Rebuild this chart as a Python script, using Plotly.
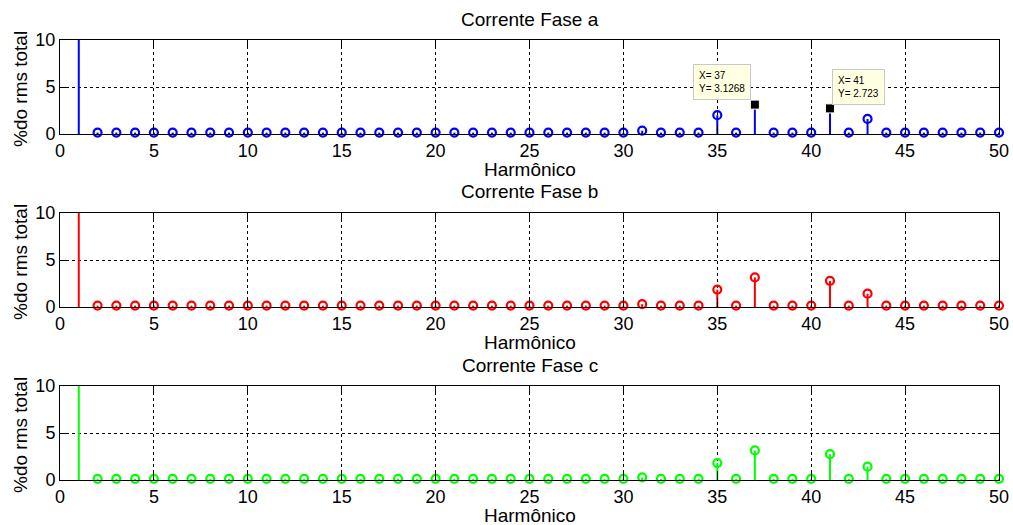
import plotly.graph_objects as go

# ---------------- data ----------------
harmonics = list(range(1, 51))

phase_a = [100.0, 0.15, 0.15, 0.15, 0.15, 0.15, 0.15, 0.15, 0.15, 0.15,
           0.15, 0.15, 0.15, 0.15, 0.15, 0.15, 0.15, 0.15, 0.15, 0.15,
           0.15, 0.15, 0.15, 0.15, 0.15, 0.15, 0.15, 0.15, 0.15, 0.15,
           0.35, 0.15, 0.15, 0.15, 2.0, 0.15, 3.1268, 0.15, 0.15, 0.15,
           2.723, 0.15, 1.6, 0.15, 0.15, 0.15, 0.15, 0.15, 0.15, 0.15]

phase_b = [100.0, 0.15, 0.15, 0.15, 0.15, 0.15, 0.15, 0.15, 0.15, 0.15,
           0.15, 0.15, 0.15, 0.15, 0.15, 0.15, 0.15, 0.15, 0.15, 0.15,
           0.15, 0.15, 0.15, 0.15, 0.15, 0.15, 0.15, 0.15, 0.15, 0.15,
           0.3, 0.15, 0.15, 0.15, 1.85, 0.15, 3.15, 0.15, 0.15, 0.15,
           2.78, 0.15, 1.42, 0.15, 0.15, 0.15, 0.15, 0.15, 0.15, 0.15]

phase_c = [100.0, 0.12, 0.12, 0.12, 0.12, 0.12, 0.12, 0.12, 0.12, 0.12,
           0.12, 0.12, 0.12, 0.12, 0.12, 0.12, 0.12, 0.12, 0.12, 0.12,
           0.12, 0.12, 0.12, 0.12, 0.12, 0.12, 0.12, 0.12, 0.12, 0.12,
           0.28, 0.12, 0.12, 0.12, 1.8, 0.12, 3.15, 0.12, 0.12, 0.12,
           2.75, 0.12, 1.42, 0.12, 0.12, 0.12, 0.12, 0.12, 0.12, 0.12]

titles = ["Corrente Fase a", "Corrente Fase b", "Corrente Fase c"]
colors = ["#0000FF", "#FF0000", "#00FF00"]
x_label = "Harmônico"
y_label = "%do rms total"
x_ticks = [0, 5, 10, 15, 20, 25, 30, 35, 40, 45, 50]
y_ticks = [0, 5, 10]

# data tips on phase a
tip_harmonics = [37, 41]
tip_texts = ["X= 37<br>Y= 3.1268", "X= 41<br>Y= 2.723"]
tip_box_pos = [(35.25, 5.55), (42.5, 5.05)]

series = [phase_a, phase_b, phase_c]

# ---------------- layout geometry ----------------
W, H = 1013, 525
x_dom = [60 / W, 999 / W]
panels_px = [(40, 134), (213, 307), (386, 480)]  # top, bottom pixel rows
y_doms = [[1 - b / H, 1 - t / H] for t, b in panels_px]

FONT = "Liberation Sans, Arial, sans-serif"

fig = go.Figure()

for i, (vals, col) in enumerate(zip(series, colors)):
    xs = "x" if i == 0 else f"x{i+1}"
    ys = "y" if i == 0 else f"y{i+1}"
    # stems
    sx, sy = [], []
    for h, v in zip(harmonics, vals):
        sx += [h, h, None]
        sy += [0, v, None]
    fig.add_trace(go.Scatter(x=sx, y=sy, mode="lines", xaxis=xs, yaxis=ys,
                             line=dict(color=col, width=2), hoverinfo="skip",
                             showlegend=False, cliponaxis=True))
    # circle markers (points inside the visible range)
    mx, my = [], []
    for h, v in zip(harmonics, vals):
        if v > 10:
            continue
        if i == 0 and h in tip_harmonics:
            continue
        mx.append(h)
        my.append(v)
    fig.add_trace(go.Scatter(x=mx, y=my, mode="markers", xaxis=xs, yaxis=ys,
                             marker=dict(symbol="circle-open", size=8, color=col,
                                         line=dict(width=2.2, color=col)),
                             showlegend=False, cliponaxis=False))

# data tip squares
tx = tip_harmonics
ty = [phase_a[h - 1] for h in tip_harmonics]
fig.add_trace(go.Scatter(x=tx, y=ty, mode="markers", xaxis="x", yaxis="y",
                         marker=dict(symbol="square", size=9, color="black",
                                     line=dict(width=1, color="#FFFFE1")),
                         showlegend=False, cliponaxis=False))

annotations = []
for i in range(3):
    t, b = panels_px[i]
    # title
    annotations.append(dict(text=titles[i], x=(x_dom[0] + x_dom[1]) / 2,
                            y=1 - (t - 21) / H, xref="paper", yref="paper",
                            xanchor="center", yanchor="middle", showarrow=False,
                            font=dict(family=FONT, size=19, color="black")))
    # x label
    annotations.append(dict(text=x_label, x=(x_dom[0] + x_dom[1]) / 2,
                            y=1 - (b + 35) / H, xref="paper", yref="paper",
                            xanchor="center", yanchor="middle", showarrow=False,
                            font=dict(family=FONT, size=19, color="black")))
    # y label
    annotations.append(dict(text=y_label, x=20 / W, y=1 - ((t + b) / 2 + 2) / H,
                            xref="paper", yref="paper", textangle=-90,
                            xanchor="center", yanchor="middle", showarrow=False,
                            font=dict(family=FONT, size=19, color="black")))

for txt, (bx, by) in zip(tip_texts, tip_box_pos):
    annotations.append(dict(text=txt, x=bx, y=by, xref="x", yref="y",
                            xanchor="center", yanchor="middle", showarrow=False,
                            align="left", bgcolor="#FFFFE1", bordercolor="#C8C8C8",
                            borderwidth=1, borderpad=5,
                            font=dict(family=FONT, size=10, color="black")))

layout = dict(width=W, height=H, margin=dict(l=0, r=0, t=0, b=0, autoexpand=False),
              paper_bgcolor="white", plot_bgcolor="white",
              font=dict(family=FONT, size=18, color="black"),
              annotations=annotations, showlegend=False)

for i in range(3):
    xk = "xaxis" if i == 0 else f"xaxis{i+1}"
    yk = "yaxis" if i == 0 else f"yaxis{i+1}"
    ya = "y" if i == 0 else f"y{i+1}"
    xa = "x" if i == 0 else f"x{i+1}"
    layout[xk] = dict(domain=x_dom, anchor=ya, range=[0, 50], tickvals=x_ticks,
                      ticks="inside", ticklen=9, tickcolor="black", mirror="ticks",
                      showline=True, linecolor="black", linewidth=1,
                      showgrid=True, gridcolor="black", griddash="dot", gridwidth=1,
                      zeroline=False, fixedrange=True, automargin=False,
                      tickfont=dict(family=FONT, size=18, color="black"))
    layout[yk] = dict(domain=y_doms[i], anchor=xa, range=[0, 10], tickvals=y_ticks,
                      ticks="inside", ticklen=9, tickcolor="black", mirror="ticks",
                      showline=True, linecolor="black", linewidth=1,
                      showgrid=True, gridcolor="black", griddash="dot", gridwidth=1,
                      zeroline=False, fixedrange=True, automargin=False,
                      tickfont=dict(family=FONT, size=18, color="black"))

fig.update_layout(**layout)
fig.write_html("out.html")
